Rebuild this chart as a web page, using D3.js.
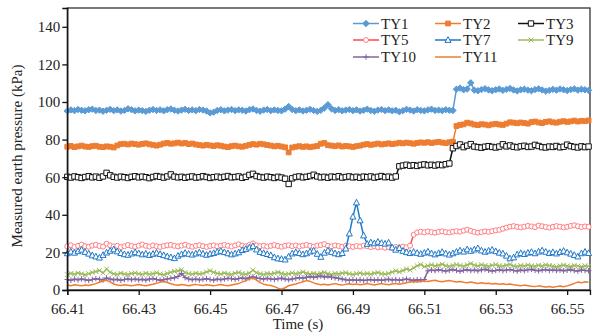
<!DOCTYPE html>
<html>
<head>
<meta charset="utf-8">
<script src="https://cdn.jsdelivr.net/npm/d3@7"></script>
<style>
  body { margin: 0; background: #fff; }
  text { font-family: "Liberation Serif", "Times New Roman", serif; fill: #222; }
</style>
</head>
<body>
<div id="chart"></div>
<script>
// sample grid: one reading every millisecond from 66.410 s
var t0 = 66.410;
var dt = 0.001;

var xTicks = [66.41, 66.43, 66.45, 66.47, 66.49, 66.51, 66.53, 66.55];
var yTicks = [0, 20, 40, 60, 80, 100, 120, 140];

var ty1 = [95.2,95.8,95.4,96.0,95.6,95.3,95.9,96.2,95.5,95.7,
  95.1,95.6,96.1,95.4,95.8,95.2,95.5,96.4,95.9,95.3,
  95.7,95.4,95.0,95.6,96.0,95.5,95.8,95.3,95.9,96.3,
  95.6,95.2,95.7,96.1,95.5,95.8,95.4,96.0,95.7,95.2,
  94.2,94.6,95.5,95.9,95.3,95.7,96.0,95.4,95.8,95.6,
  95.2,95.9,96.3,95.5,95.1,95.7,96.0,95.4,95.8,95.5,
  95.3,96.2,97.6,96.0,95.4,95.8,95.2,95.6,96.1,95.5,
  95.0,95.6,96.8,98.6,96.4,95.5,95.9,95.3,95.7,96.0,
  95.4,95.8,95.2,95.6,96.2,95.5,95.1,95.7,96.0,95.4,
  95.8,95.3,95.6,94.8,95.4,96.1,95.7,95.2,95.9,95.5,
  95.3,95.8,96.2,95.5,95.7,95.4,95.9,95.6,95.5,106.8,
  107.4,106.5,106.9,110.2,106.3,106.0,106.6,107.1,106.4,106.0,
  106.5,106.9,106.2,106.7,107.2,106.4,105.9,106.5,106.8,106.3,
  106.0,106.6,107.0,106.4,105.8,106.2,106.7,106.3,106.9,106.5,
  106.1,106.6,107.0,106.3,106.8,106.5,106.2];

var ty2 = [76.2,76.6,76.0,76.4,76.8,76.3,76.1,76.5,76.7,76.2,
  76.0,76.4,76.2,75.8,76.9,77.6,77.8,77.4,77.9,77.6,
  77.3,77.7,78.0,77.5,77.2,76.8,77.3,77.9,78.2,77.8,
  78.0,78.4,77.9,78.2,77.6,77.9,77.4,77.1,76.8,77.2,
  76.9,76.6,77.0,76.7,76.3,76.0,76.5,76.8,76.4,76.2,
  76.7,77.2,77.6,77.3,77.8,77.5,77.1,76.8,76.4,76.7,
  76.3,75.9,73.2,75.8,76.2,76.5,76.1,76.4,76.0,76.3,
  76.6,77.8,78.2,77.0,76.8,76.5,76.9,76.3,76.6,76.4,
  76.1,76.5,76.8,77.3,77.6,77.2,77.5,77.9,77.4,77.7,
  78.0,77.6,77.9,78.3,78.0,78.4,78.1,77.8,78.2,78.5,
  78.3,78.6,78.2,78.5,78.8,78.4,78.1,78.6,78.9,87.2,
  87.8,88.1,89.0,88.6,88.0,87.7,88.2,88.0,87.6,88.1,
  88.4,88.0,87.8,88.5,89.2,89.0,88.7,89.1,88.8,88.5,
  89.3,89.6,89.1,88.8,89.4,89.7,89.2,89.0,89.5,89.8,
  89.4,89.7,90.1,89.6,90.0,89.8,90.2];

var ty3 = [60.2,59.8,60.4,60.0,59.6,60.1,60.5,59.9,60.3,59.7,
  60.4,62.3,61.0,60.2,59.8,60.3,60.0,59.6,60.2,60.5,
  59.9,60.3,60.0,59.5,60.1,60.6,60.2,59.8,60.4,61.5,
  60.3,59.9,60.2,59.7,60.1,60.4,59.8,60.0,60.5,60.1,
  59.6,60.0,60.3,59.8,60.2,60.6,59.9,60.1,60.4,59.7,
  60.2,61.2,61.8,60.6,60.1,59.8,60.3,60.0,59.6,60.2,
  59.8,59.2,56.4,59.4,60.1,60.4,59.9,60.2,60.6,61.3,
  60.4,59.9,60.2,59.7,60.3,60.0,60.5,59.8,60.1,60.4,
  59.9,60.2,59.7,60.3,60.0,60.4,59.8,60.2,60.6,60.0,
  60.3,59.8,60.4,65.8,66.2,66.6,66.1,66.4,66.0,66.5,
  66.8,66.3,66.6,66.2,66.7,66.4,66.9,67.3,75.4,76.6,
  77.4,76.0,76.8,77.6,76.3,76.0,75.7,76.2,76.5,76.1,
  75.8,76.3,77.5,76.4,76.9,76.2,75.9,76.4,76.7,76.1,
  76.3,77.2,76.6,76.0,75.8,76.3,76.1,76.6,75.9,76.2,
  77.3,76.5,76.1,75.8,76.4,76.0,76.3];

var ty5 = [23.2,23.8,22.9,23.5,24.1,23.3,23.0,23.6,24.0,23.4,
  23.1,24.6,23.7,23.2,23.5,22.8,23.3,23.9,23.4,23.0,
  23.6,24.2,23.5,23.1,23.7,23.3,22.9,23.4,23.8,24.0,
  23.5,23.2,23.6,24.1,23.4,23.0,23.5,23.8,23.3,22.9,
  23.4,23.7,23.2,23.6,24.0,23.5,23.1,23.7,24.3,23.6,
  23.2,24.0,24.8,23.7,23.3,23.6,23.1,23.5,23.9,23.4,
  23.0,23.5,23.8,23.3,23.7,23.2,23.6,24.0,23.5,23.1,
  23.6,23.9,24.4,23.5,23.2,23.7,23.4,23.0,23.5,23.3,
  22.9,23.4,23.1,23.6,23.3,22.8,23.2,22.7,23.0,22.5,
  22.8,22.4,22.9,22.6,23.1,22.7,23.6,29.4,30.6,31.0,
  30.7,31.1,30.8,30.5,30.9,31.2,30.8,30.6,31.0,31.3,
  31.0,31.6,32.1,31.4,30.9,30.5,30.8,31.2,30.9,31.3,
  31.7,32.0,32.6,33.2,33.7,34.0,33.6,33.3,33.7,34.1,
  33.8,33.4,34.3,33.9,33.5,33.2,33.6,34.0,33.7,33.3,
  33.6,34.1,34.4,33.9,33.5,33.8,33.6];

var ty7 = [19.5,20.4,19.8,20.6,21.4,20.2,19.3,18.4,17.8,17.2,
  18.6,19.9,20.8,21.6,20.5,19.6,19.0,18.7,19.4,20.1,
  19.5,18.9,19.3,18.6,19.2,19.8,19.1,18.5,17.9,17.4,
  16.9,18.2,19.0,19.7,19.2,18.8,19.4,20.0,19.3,18.7,
  19.2,19.6,20.3,20.8,20.1,19.5,18.9,19.4,20.0,21.2,
  21.8,22.6,23.3,21.5,20.2,19.6,19.1,18.5,17.4,16.8,
  16.5,16.2,17.8,19.4,20.1,19.6,19.0,19.5,20.4,20.9,
  19.2,17.6,19.8,21.0,20.2,19.5,19.0,19.6,22.0,30.0,
  39.0,46.5,37.0,29.0,24.5,25.3,24.8,25.6,25.0,24.6,
  25.2,22.6,21.4,22.3,20.8,20.1,19.6,20.3,19.7,19.2,
  19.8,20.4,19.5,18.9,19.6,20.2,19.4,18.8,19.5,20.3,
  21.0,20.4,21.6,20.8,21.5,22.2,21.0,20.3,20.9,21.4,
  20.6,19.8,19.4,18.2,16.8,17.3,18.9,19.6,19.1,19.8,
  20.2,19.5,20.4,21.0,20.3,19.6,20.1,19.4,20.2,20.8,
  20.0,19.3,18.6,17.8,19.5,20.3,19.6];

var ty9 = [8.2,8.8,8.4,9.0,8.6,8.1,8.7,9.3,9.8,10.4,
  9.1,11.2,9.4,8.6,8.3,8.9,8.5,8.2,8.8,9.1,
  8.6,8.3,8.9,8.4,8.7,9.2,8.5,8.1,8.8,9.4,
  9.9,10.2,10.8,9.3,8.7,8.4,8.9,8.5,8.8,9.6,
  10.3,9.4,8.8,8.5,9.0,8.6,8.3,8.9,9.3,8.7,
  8.4,9.0,10.6,9.2,8.7,8.3,8.8,8.5,8.9,9.4,
  8.8,8.3,8.6,9.1,8.7,9.0,9.6,8.9,8.5,8.8,
  8.4,8.9,9.3,8.7,8.3,8.8,8.5,8.9,9.2,8.6,
  8.2,8.7,9.0,8.5,8.8,8.4,8.9,9.3,8.6,8.4,
  8.8,9.5,10.2,9.6,10.4,11.2,10.6,11.8,12.9,13.6,
  12.4,12.9,13.4,12.8,13.2,13.7,12.9,12.6,13.1,13.5,
  13.0,12.7,13.3,14.1,13.2,12.8,13.4,13.0,12.6,13.1,
  13.5,12.9,12.6,13.2,13.6,12.8,12.5,13.0,12.7,13.3,
  12.9,12.6,13.1,12.8,13.4,13.0,12.7,12.4,12.9,13.2,
  12.8,12.5,13.0,12.7,12.4,12.9,12.6];

var ty10 = [5.6,5.2,5.8,5.4,5.9,5.5,5.1,5.6,6.0,5.7,
  5.3,6.4,5.8,5.4,5.7,5.2,5.6,5.9,5.5,5.8,
  5.4,5.7,5.3,5.8,6.1,5.6,5.2,5.5,5.9,6.2,
  6.5,7.2,8.8,6.6,5.9,5.5,5.8,5.4,5.7,6.0,
  5.6,5.3,5.8,5.5,5.9,6.2,6.0,5.7,6.1,6.4,
  6.0,6.5,7.0,6.4,6.1,5.8,6.2,5.9,5.6,6.0,
  6.3,5.8,5.5,5.9,6.2,6.6,6.3,6.8,7.1,6.7,
  7.0,7.4,6.9,7.2,6.8,6.5,6.2,5.8,5.4,5.2,
  5.5,5.1,5.4,5.0,5.3,5.6,5.2,5.5,5.1,5.4,
  5.7,5.3,5.6,5.2,5.5,5.8,5.4,5.1,5.5,5.3,
  5.6,10.2,10.6,10.3,10.8,10.4,10.1,10.5,10.9,10.4,
  10.0,10.5,10.8,10.3,10.6,10.2,10.7,11.0,10.5,10.1,
  10.4,10.8,10.3,10.6,10.9,10.4,10.1,10.6,10.3,10.7,
  11.0,10.5,10.2,10.6,10.9,10.4,10.7,10.3,10.6,10.2,
  10.5,10.8,10.3,10.1,10.6,10.4,10.2];

var ty11 = [2.6,2.3,2.8,2.5,2.2,2.7,2.4,2.9,3.4,4.1,
  4.8,5.2,4.3,3.2,2.7,2.4,2.8,2.5,2.2,2.6,
  2.9,2.5,2.3,2.7,3.1,3.6,4.2,4.5,4.0,3.3,
  2.8,2.5,2.9,2.6,2.3,2.7,3.0,2.6,2.4,2.8,
  2.5,2.2,2.6,2.9,2.5,2.3,2.7,3.1,3.5,4.2,
  5.0,5.8,6.4,5.2,3.9,3.1,2.7,2.4,1.8,1.0,
  0.4,1.2,2.3,2.8,3.2,3.8,4.4,5.0,4.6,3.8,
  3.2,2.8,3.1,2.7,3.0,3.4,2.9,2.6,3.0,3.3,
  2.9,3.2,2.8,3.1,3.5,3.0,2.7,3.1,3.4,3.0,
  2.8,3.2,3.5,3.1,3.4,3.8,4.2,4.5,4.3,4.6,
  4.8,4.5,4.9,5.2,4.7,4.4,4.8,5.1,4.6,4.3,
  4.5,4.1,3.8,4.2,3.9,3.5,3.8,3.4,3.6,3.2,
  3.5,3.1,3.3,2.9,3.2,2.8,2.5,2.2,2.6,2.3,
  2.0,1.8,2.2,1.9,1.6,1.9,1.5,1.8,2.1,1.7,
  2.2,2.8,3.5,4.2,3.8,4.4,4.1];

var seriesNames = ["TY1", "TY2", "TY3", "TY5", "TY7", "TY9", "TY10", "TY11"];
var seriesValues = [ty1, ty2, ty3, ty5, ty7, ty9, ty10, ty11];

// colour and marker for each series, Excel style
var styles = {
  TY1:  {color: "#5B9BD5", marker: "diamond", fill: "#5B9BD5", size: 3.2},
  TY2:  {color: "#ED7D31", marker: "square", fill: "#ED7D31", size: 2.4},
  TY3:  {color: "#111111", marker: "square", fill: "#fff", size: 2.7},
  TY5:  {color: "#FF4B4B", marker: "circle", fill: "#fff", size: 2.5, mstroke: "#FF7C80"},
  TY7:  {color: "#1F78C8", marker: "triangle", fill: "#fff", size: 3.0},
  TY9:  {color: "#9BBB59", marker: "cross", fill: "none", size: 2.4},
  TY10: {color: "#8064A2", marker: "plus", fill: "none", size: 2.8},
  TY11: {color: "#ED7D31", marker: "none"}
};

var W = 595, H = 334;
var margin = {top: 8, right: 5, bottom: 44, left: 67.3};
var width = W - margin.left - margin.right;
var height = H - margin.top - margin.bottom;

var xScale = d3.scaleLinear().domain([66.41, 66.5564]).range([0, width]);
var yScale = d3.scaleLinear().domain([0, 150]).range([height, 0]);

var svg = d3.select("#chart").append("svg")
  .attr("width", W)
  .attr("height", H);

var g = svg.append("g")
  .attr("transform", "translate(" + margin.left + "," + margin.top + ")");

// plot frame (top and right)
g.append("rect")
  .attr("x", 0).attr("y", 0)
  .attr("width", width).attr("height", height)
  .attr("fill", "none")
  .attr("stroke", "#333")
  .attr("stroke-width", 1.3);

function markerPath(type, s) {
  if (type == "diamond") return "M0," + (-s) + "L" + s + ",0L0," + s + "L" + (-s) + ",0Z";
  if (type == "square") return "M" + (-s) + "," + (-s) + "h" + (2*s) + "v" + (2*s) + "h" + (-2*s) + "Z";
  if (type == "triangle") return "M0," + (-s*1.1) + "L" + s + "," + (s*0.8) + "L" + (-s) + "," + (s*0.8) + "Z";
  if (type == "cross") return "M" + (-s) + "," + (-s) + "L" + s + "," + s + "M" + s + "," + (-s) + "L" + (-s) + "," + s;
  if (type == "plus") return "M" + (-s) + ",0H" + s + "M0," + (-s) + "V" + s;
  return "";
}

var line = d3.line()
  .x(function(d) { return xScale(d.t); })
  .y(function(d) { return yScale(d.v); });

seriesNames.forEach(function(name, k) {
  var st = styles[name];
  var dataset = seriesValues[k].map(function(v, i) { return {t: t0 + i * dt, v: v}; });
  var sg = g.append("g").attr("class", "series");

  sg.append("path")
    .datum(dataset)
    .attr("fill", "none")
    .attr("stroke", st.color)
    .attr("stroke-width", 1.5)
    .attr("stroke-linejoin", "round")
    .attr("d", line);

  if (st.marker == "none") return;

  var ms = st.mstroke || st.color;
  if (st.marker == "circle") {
    sg.selectAll(".dot")
      .data(dataset)
      .enter().append("circle")
      .attr("cx", function(d) { return xScale(d.t); })
      .attr("cy", function(d) { return yScale(d.v); })
      .attr("r", st.size)
      .attr("fill", st.fill)
      .attr("stroke", ms)
      .attr("stroke-width", 1);
  } else {
    sg.selectAll(".dot")
      .data(dataset)
      .enter().append("path")
      .attr("transform", function(d) { return "translate(" + xScale(d.t) + "," + yScale(d.v) + ")"; })
      .attr("d", markerPath(st.marker, st.size))
      .attr("fill", st.fill)
      .attr("stroke", ms)
      .attr("stroke-width", 1);
  }
});

// x axis
var xAxis = g.append("g")
  .attr("transform", "translate(0," + height + ")")
  .call(d3.axisBottom(xScale).tickValues(xTicks).tickSize(5).tickPadding(8)
    .tickFormat(d3.format(".2f")));
xAxis.select(".domain").attr("stroke", "#111").attr("stroke-width", 1.3);
xAxis.selectAll(".tick line").attr("stroke", "#111").attr("stroke-width", 1.3);
xAxis.selectAll("text").attr("font-size", 15).attr("fill", "#222")
  .style("font-family", "Liberation Serif");

// y axis
var yAxis = g.append("g")
  .call(d3.axisLeft(yScale).tickValues(yTicks).tickSize(5).tickPadding(2));
yAxis.select(".domain").attr("stroke", "#111").attr("stroke-width", 1.3);
yAxis.selectAll(".tick line").attr("stroke", "#111").attr("stroke-width", 1.3);
yAxis.selectAll("text").attr("font-size", 15).attr("fill", "#222")
  .style("font-family", "Liberation Serif");

// axis titles
svg.append("text")
  .attr("x", 298).attr("y", 329)
  .attr("text-anchor", "middle")
  .attr("font-size", 15)
  .text("Time (s)");

svg.append("text")
  .attr("transform", "translate(22,156) rotate(-90)")
  .attr("text-anchor", "middle")
  .attr("font-size", 15)
  .text("Measured earth pressure (kPa)");

// legend, three columns
var legCols = [353, 435, 518];
var legRows = [23.5, 40, 57];
seriesNames.forEach(function(name, k) {
  var st = styles[name];
  var lx = legCols[k % 3], ly = legRows[Math.floor(k / 3)];
  var lg = svg.append("g").attr("transform", "translate(" + lx + "," + ly + ")");
  lg.append("line")
    .attr("x1", 0).attr("x2", 26).attr("y1", 0).attr("y2", 0)
    .attr("stroke", st.color).attr("stroke-width", 1.5);
  if (st.marker == "circle") {
    lg.append("circle").attr("cx", 13).attr("cy", 0).attr("r", st.size)
      .attr("fill", st.fill).attr("stroke", st.mstroke || st.color).attr("stroke-width", 1);
  } else if (st.marker != "none") {
    lg.append("path").attr("transform", "translate(13,0)")
      .attr("d", markerPath(st.marker, st.size))
      .attr("fill", st.fill).attr("stroke", st.mstroke || st.color).attr("stroke-width", 1);
  }
  lg.append("text")
    .attr("x", 28).attr("y", 5)
    .attr("font-size", 15)
    .text(name);
});
</script>
</body>
</html>
